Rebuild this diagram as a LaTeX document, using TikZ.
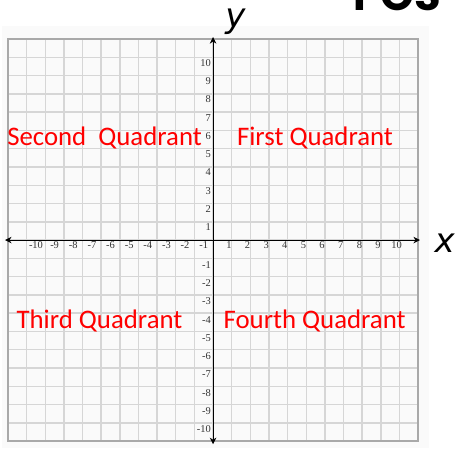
\documentclass[tikz,border=0pt]{standalone}
\usepackage{fontspec}
\usetikzlibrary{arrows.meta}
\setmainfont{Liberation Serif}
\newfontfamily\quadfont{Carlito}
\newfontfamily\axisfont{DejaVu Sans}
\newfontfamily\titlefont{Poppins}
\definecolor{cfafafa}{RGB}{250,250,250}
\definecolor{cd6d6d6}{RGB}{214,214,214}
\definecolor{ca9a9a9}{RGB}{169,169,169}
\definecolor{cff0000}{RGB}{255,0,0}
\definecolor{c333333}{RGB}{51,51,51}

\begin{document}
\begin{tikzpicture}[x=0.5014cm, y=0.4915cm, inner sep=0pt, outer sep=0pt,
  gridline/.style={draw=cd6d6d6, line width=1.1pt},
  frameline/.style={draw=ca9a9a9, line width=1.3pt},
  axisline/.style={draw=black, line width=0.8pt, -{Stealth[length=5pt, width=5pt]}},
  ticklabel/.style={text=c333333, font=\fontsize{8}{9}\selectfont},
  quadlabel/.style={text=cff0000, font=\quadfont\fontsize{20.5}{22}\selectfont},
  varlabel/.style={text=black, font=\axisfont\itshape\fontsize{26}{28}\selectfont}]
  \useasboundingbox (-11.43, -11.38) rectangle (12.98, 13.14);

  \path[fill=cfafafa] (-11.32, -11.38) rectangle (11.59, 11.71);

  % grid
  \foreach \k in {-10,...,10} {
    \path[gridline] (\k, -11) -- (\k, 11);
    \path[gridline] (-11, \k) -- (11, \k);
  }
  \path[frameline] (-11, -11) rectangle (11, 11);

  % title, cut off by the page
  \begin{scope}
    \clip (-11.43, -11.38) rectangle (12.98, 13.14);
    \node[text=black, anchor=base west, font=\titlefont\bfseries\fontsize{33}{36}\selectfont] (title) at (7.56, 12.59) {POS};
  \end{scope}

  % axes
  \coordinate (xleft) at (-11.16, 0);
  \coordinate (xright) at (11.1, 0);
  \coordinate (ybottom) at (0, -11.17);
  \coordinate (ytop) at (0, 11.11);
  \path[axisline] (0, 0) -- (xright);
  \path[axisline] (0, 0) -- (xleft);
  \path[axisline] (0, 0) -- (ytop);
  \path[axisline] (0, 0) -- (ybottom);

  \node[varlabel] (xlabel) at (12.42, -0.15) {x};
  \node[varlabel, anchor=base] (ylabel) at (1.2, 11.66) {y};

  % numbers on the x axis
  \foreach \k in {1,...,10} {
    \node[ticklabel] (xpos\k) at (\k-0.15, -0.28) {\k};
    \node[ticklabel] (xneg\k) at (-\k+0.5, -0.28) {-\k};
  }
  % numbers on the y axis
  \foreach \k in {1,...,10} {
    \node[ticklabel, anchor=east] (ypos\k) at (-0.12, \k-0.3) {\k};
    \node[ticklabel, anchor=east] (yneg\k) at (-0.12, -\k-0.35) {-\k};
  }

  % quadrant names
  \node[quadlabel] (second) at (-5.82, 5.6) {Second~ Quadrant};
  \node[quadlabel] (first) at (5.47, 5.6) {First Quadrant};
  \node[quadlabel] (third) at (-6.09, -4.4) {Third Quadrant};
  \node[quadlabel] (fourth) at (5.45, -4.4) {Fourth Quadrant};

\end{tikzpicture}
\end{document}
